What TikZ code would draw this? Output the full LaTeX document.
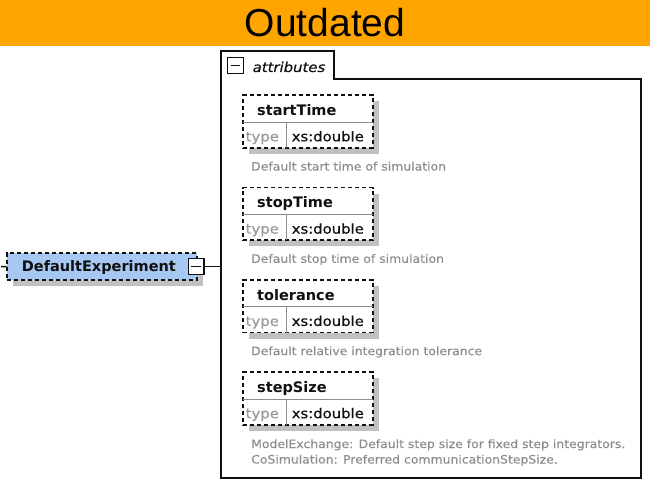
\documentclass[tikz,border=0pt]{standalone}
\usepackage{fontspec}
\usetikzlibrary{shadows}
\setmainfont{DejaVu Sans}
\newfontfamily\bannerfont{Liberation Sans}
\newfontfamily\hfont[FakeStretch=1.0]{DejaVu Sans}
\newfontfamily\rfont[FakeStretch=1.1,FakeBold=0.4]{DejaVu Sans}
\newfontfamily\dfont[FakeStretch=1.08,FakeBold=0.2]{DejaVu Sans}
\definecolor{bannerorange}{HTML}{FFA500}
\definecolor{elemblue}{HTML}{A6C8F2}
\definecolor{shadowgray}{HTML}{C0C0C0}
\definecolor{desctext}{HTML}{8A8C90}
\definecolor{typegray}{HTML}{9A9A9A}
\definecolor{divgray}{HTML}{8C8C8C}
\definecolor{ink}{HTML}{101010}
\tikzset{
  boxshadow/.style={general shadow={fill=shadowgray, shadow xshift=6pt, shadow yshift=-6pt}},
  dashedborder/.style={draw=ink, line width=1.7pt, dash pattern=on 4pt off 3pt},
  attrbox/.style={dashedborder, boxshadow, fill=white, anchor=north west, inner sep=0pt, outer sep=0pt,
    minimum width=129.4pt, minimum height=52.7pt},
  elembox/.style={dashedborder, boxshadow, fill=elemblue, anchor=north west, inner sep=0pt, outer sep=0pt,
    minimum width=190pt, minimum height=26.7pt},
  minusbox/.style={draw=ink, line width=1.3pt, fill=white, inner sep=0pt, outer sep=0pt, minimum size=15.6pt},
  headtext/.style={anchor=base west, inner sep=0pt, text=ink, font=\hfont\bfseries\fontsize{14.5}{16}\selectfont},
  typetext/.style={anchor=base west, inner sep=0pt, text=typegray, font=\rfont\fontsize{13.5}{15}\selectfont},
  valtext/.style={anchor=base west, inner sep=0pt, text=ink, font=\rfont\fontsize{13.5}{15}\selectfont},
  desc/.style={anchor=base west, inner sep=0pt, text=desctext, font=\dfont\fontsize{11.5}{15}\selectfont},
  divider/.style={draw=divgray, line width=1pt},
  frame/.style={draw=ink, line width=1.4pt},
  connector/.style={draw=ink, line width=1.4pt}
}
\begin{document}
\begin{tikzpicture}[x=1pt,y=-1pt]
\useasboundingbox (0,0) rectangle (650,484);
% banner
\fill[bannerorange] (0,0) rectangle (650,46.5);
\node[anchor=base, inner sep=0pt, font=\bannerfont\fontsize{39}{40}\selectfont] (banner) at (325,36.5) {Outdated};

% attributes container with tab
\coordinate (cTabNW) at (221,51);
\coordinate (cTabNE) at (334,51);
\coordinate (cTabSE) at (334,79);
\coordinate (cNE) at (641,79);
\coordinate (cSE) at (641,478);
\coordinate (cSW) at (221,478);
\draw[frame] (cTabSE) -- (cNE) -- (cSE) -- (cSW) -- (cTabNW) -- (cTabNE) -- cycle;
\node[minusbox] (tabminus) at (235.5,65.5) {};
\draw[ink, line width=1.3pt] ([xshift=3pt]tabminus.west) -- ([xshift=-3pt]tabminus.east);
\node[anchor=base west, inner sep=0pt, text=ink, font=\rfont\itshape\fontsize{13.5}{15}\selectfont] (attrlabel) at (252.5,72) {attributes};

% element DefaultExperiment
\node[elembox] (de) at (6.7,253.3) {};
\node[headtext] (detext) at (21.7,271) {DefaultExperiment};
\coordinate (stub) at (1,266.6);
\draw[connector] (stub) -- (de.west);
\node[minusbox] (deminus) at (196.2,266.6) {};
\draw[ink, line width=1.3pt] ([xshift=3pt]deminus.west) -- ([xshift=-3pt]deminus.east);
\draw[connector] (deminus.east) -- (deminus.east -| cSW);

% attribute boxes
\foreach \i/\top/\name in {1/95.3/startTime, 2/187.6/stopTime, 3/279.9/tolerance, 4/372.2/stepSize}{
  \node[attrbox] (box\i) at (243.3,\top) {};
  \draw[divider] ([yshift=-27pt]box\i.north west) -- ([yshift=-27pt]box\i.north east);
  \draw[divider] ([xshift=43.4pt,yshift=-27pt]box\i.north west) -- ([xshift=43.4pt]box\i.south west);
  \node[headtext] (name\i) at (257,\top+20.3) {\name};
  \node[typetext] (type\i) at (245.5,\top+46) {type};
  \node[valtext] (val\i) at (291.5,\top+46) {xs:double};
}
\node[desc] (desc1) at (251,170.5) {Default start time of simulation};
\node[desc] (desc2) at (251,262.8) {Default stop time of simulation};
\node[desc] (desc3) at (251,355.1) {Default relative integration tolerance};
\node[desc] (desc4a) at (251,448) {ModelExchange: Default step size for fixed step integrators.};
\node[desc] (desc4b) at (251,463.5) {CoSimulation: Preferred communicationStepSize.};
\end{tikzpicture}
\end{document}
